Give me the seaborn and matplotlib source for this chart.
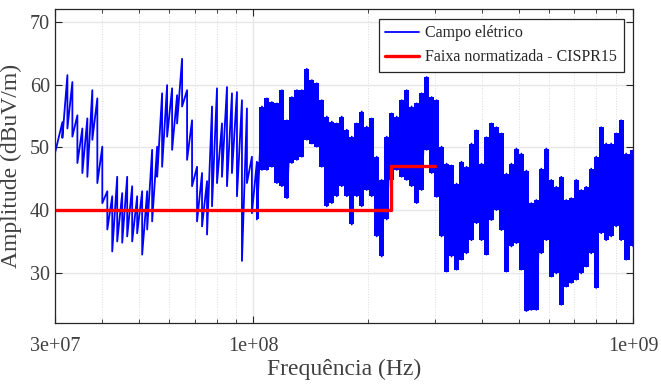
import numpy as np
import pandas as pd
import seaborn as sns
import matplotlib
matplotlib.use("Agg")
import matplotlib.pyplot as plt
from matplotlib.ticker import FixedLocator, NullFormatter

# frequencias (MHz) e envelope do campo eletrico (dBuV/m)
freq_mhz = [30.0, 31.40, 32.37, 33.36, 34.39, 35.44, 36.53, 37.65, 38.81, 40.00,
            41.23, 42.48, 43.78, 45.13, 46.51, 47.94, 49.41, 50.93, 52.50, 54.11,
            55.77, 57.48, 59.25, 61.07, 62.94, 64.88, 66.87, 68.92, 71.04, 73.22,
            75.47, 77.79, 80.18, 82.64, 85.18, 87.79, 90.49, 93.27, 96.13, 99.08,
            102.1, 105.3, 108.5, 111.8, 115.3, 118.8, 122.5, 126.2, 130.1, 134.1,
            138.2, 142.5, 146.8, 151.3, 156.0, 160.8, 165.7, 170.8, 176.1, 181.5,
            187.1, 192.8, 198.7, 204.8, 211.1, 217.6, 224.3, 231.2, 238.3, 245.6,
            253.2, 260.9, 268.9, 277.2, 285.7, 294.5, 303.5, 312.9, 322.5, 332.4,
            342.6, 353.0, 363.9, 375.1, 386.6, 398.5, 410.7, 423.3, 436.3, 449.7,
            463.5, 477.8, 492.5, 507.6, 523.2, 539.3, 555.8, 572.9, 590.5, 608.6,
            627.3, 646.6, 666.4, 686.9, 708.0, 729.7, 752.2, 775.3, 799.1, 823.7,
            848.9, 874.9, 901.8, 929.5, 958.1, 1000.0]

campo_max = [60.8, 54.0, 61.5, 60.4, 55.1, 53.0, 54.6, 59.1, 57.8, 50.1,
             43.0, 42.2, 45.3, 42.7, 45.3, 43.8, 42.2, 43.0, 43.0, 49.6,
             50.1, 58.6, 59.9, 59.4, 58.3, 64.1, 59.1, 54.3, 46.9, 45.9,
             44.6, 56.5, 59.4, 53.8, 59.6, 58.6, 58.8, 57.5, 56.2, 48.5,
             47.7, 56.5, 57.8, 57.2, 57.0, 59.1, 54.3, 58.0, 59.1, 59.1,
             62.5, 60.7, 60.2, 57.5, 54.9, 54.1, 53.8, 54.9, 52.8, 51.7,
             53.8, 55.7, 53.3, 54.6, 48.5, 44.8, 51.7, 55.4, 54.9, 57.5,
             59.1, 56.5, 57.0, 58.6, 61.2, 58.0, 57.5, 50.1, 47.4, 47.1,
             44.2, 47.7, 46.9, 50.6, 52.7, 47.4, 51.6, 53.8, 53.2, 52.2,
             45.8, 47.4, 49.8, 49.0, 46.3, 41.1, 41.6, 46.6, 49.8, 44.8,
             43.7, 45.3, 41.6, 41.9, 44.8, 43.2, 43.7, 46.6, 48.5, 53.2,
             50.6, 50.6, 52.2, 54.3, 49.0, 49.5]

campo_min = [49.0, 51.5, 53.0, 51.7, 47.5, 45.9, 45.3, 51.2, 44.3, 41.1,
             36.9, 33.4, 35.0, 34.8, 35.8, 35.0, 36.3, 32.9, 36.9, 38.2,
             45.3, 46.9, 51.7, 49.6, 53.8, 56.5, 48.0, 43.8, 38.2, 37.4,
             36.1, 40.6, 44.3, 45.3, 43.8, 45.9, 42.2, 31.9, 44.3, 39.5,
             38.5, 46.4, 46.4, 46.9, 44.3, 43.8, 41.9, 47.5, 48.0, 48.5,
             51.2, 50.6, 50.1, 46.9, 40.6, 41.1, 42.2, 43.8, 42.2, 37.7,
             42.2, 40.6, 43.2, 42.2, 35.8, 32.6, 38.5, 44.8, 46.4, 45.3,
             44.8, 43.8, 41.1, 43.2, 49.6, 45.9, 42.1, 35.8, 30.2, 32.6,
             30.5, 32.1, 33.1, 35.2, 37.9, 35.2, 32.9, 38.4, 40.0, 36.8,
             30.2, 34.2, 34.7, 30.5, 23.9, 24.1, 24.1, 33.1, 35.2, 29.4,
             29.9, 24.9, 27.8, 28.4, 28.9, 29.9, 31.0, 33.1, 27.6, 36.3,
             35.2, 35.8, 37.4, 35.2, 32.1, 34.2]

# limite CISPR15
limite_freq_mhz = [30, 230, 230, 300]
limite_nivel = [40, 40, 47, 47]

xticks = [3e7, 1e8, 1e9]
xtick_labels = ["3e+07", "1e+08", "1e+09"]
yticks = [30, 40, 50, 60, 70]

sns.set_style("ticks")
plt.rcParams['font.family'] = ['Liberation Serif', 'DejaVu Serif']

f = np.array(freq_mhz) * 1e6
hi = np.array(campo_max)
lo = np.array(campo_min)
df = pd.DataFrame({"freq": np.repeat(f, 2),
                   "campo": np.column_stack([hi, lo]).ravel()})
lim = pd.DataFrame({"freq": np.array(limite_freq_mhz) * 1e6,
                    "nivel": limite_nivel})

fig = plt.figure(figsize=(6.61, 3.85), dpi=100)
ax = fig.add_axes([0.083, 0.161, 0.875, 0.815])

# parte densa do espectro (acima de ~100 MHz) desenhada como faixa
dense = f >= 100e6
ax.fill_between(f, lo, hi, where=dense, step="mid", color="blue", lw=0)
sns.lineplot(data=df, x="freq", y="campo", ax=ax, color="blue", lw=1.3,
             sort=False, estimator=None, label="Campo elétrico")
sns.lineplot(data=lim, x="freq", y="nivel", ax=ax, color="red", lw=2.4,
             sort=False, estimator=None, label="Faixa normatizada - CISPR15")

ax.set_xscale("log")
ax.set_xlim(3e7, 1e9)
ax.set_ylim(22, 72)
ax.xaxis.set_major_locator(FixedLocator(xticks))
ax.set_xticklabels(xtick_labels)
minors = [k * 10**e for e in (7, 8) for k in range(2, 10) if 3e7 < k * 10**e < 1e9]
ax.xaxis.set_minor_locator(FixedLocator(minors))
ax.xaxis.set_minor_formatter(NullFormatter())
ax.set_yticks(yticks)

ax.grid(True, which="major", color="#e6e6e6", lw=1.0, ls="-")
ax.grid(True, which="minor", axis="x", color="#dcdcdc", lw=0.7, ls=":")
ax.set_axisbelow(True)

ax.tick_params(which="both", direction="in", top=True, right=True,
               colors="#262626", labelcolor="#404040", labelsize=14.5)
ax.tick_params(which="major", length=5, width=0.8)
ax.tick_params(which="minor", length=3, width=0.6)
ax.tick_params(axis="x", pad=10)
for s in ax.spines.values():
    s.set_color("#262626")
    s.set_linewidth(0.9)

ax.set_xlabel("Frequência (Hz)", fontsize=17, color="#404040", labelpad=2)
ax.set_ylabel("Amplitude (dBuV/m)", fontsize=17, color="#404040", labelpad=6)

leg = ax.legend(loc="upper right", fontsize=11.5, frameon=True, fancybox=False,
                framealpha=1, edgecolor="#262626", borderpad=0.4,
                handlelength=2.1, handletextpad=0.4, labelspacing=0.5,
                borderaxespad=0.6)
leg.get_frame().set_linewidth(0.9)
for t in leg.get_texts():
    t.set_color("#262626")

fig.savefig("out.png", dpi=100)
